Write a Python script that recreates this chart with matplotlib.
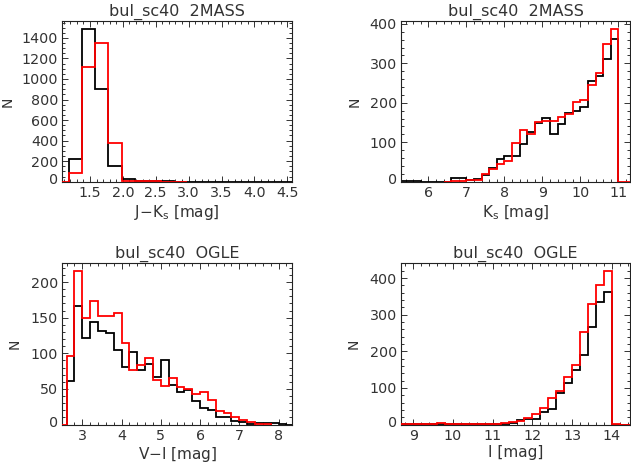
import numpy as np
import matplotlib
matplotlib.use('Agg')
import matplotlib.pyplot as plt
from matplotlib.ticker import MultipleLocator
from matplotlib.transforms import ScaledTranslation

# J-Ks histogram (2MASS), bin width 0.2
jk_black_start = 1.18
jk_black = [221, 1490, 900, 157, 30, 8, 4, 2, 1, 0, 0, 0, 0, 0, 0, 0, 0]
jk_red_start = 0.98
jk_red = [0, 88, 1118, 1353, 380, 10, 4, 2, 1, 0]

# Ks histogram (2MASS)
ks_black_start = 5.2
ks_black = [2, 2, 1, 0, 0, 0, 0,
            9, 9, 4, 7, 17, 34, 58, 66, 64, 96, 125, 149, 161, 122, 145,
            173, 180, 189, 256, 268, 310, 362]
ks_red_start = 6.4
ks_red = [0, 2, 2, 3, 4, 19, 32, 44, 52, 97, 130, 122, 151, 153, 153, 164,
          171, 201, 206, 245, 276, 350, 388, 0, 0]

# V-I histogram (OGLE)
vi_black_start = 2.6
vi_black = [61, 167, 122, 144, 131, 128, 104, 81, 102, 77, 85, 67, 91, 56,
            45, 49, 33, 23, 20, 10, 10, 5, 3, 1, 2, 2, 2, 1, 0]
vi_red_start = 2.4
vi_red = [0, 96, 216, 150, 173, 152, 153, 157, 114, 76, 83, 93, 63, 54, 66,
          52, 50, 43, 45, 34, 19, 16, 11, 7, 3, 1, 1]

# I histogram (OGLE)
i_black_start = 8.6
i_black = [1, 1, 1, 1, 1, 2, 1, 1, 1, 1, 1, 1,
           1, 2, 5, 11, 16, 15, 35, 43, 87, 114, 149, 190, 265, 335, 361,
           0, 0, 0]
i_red_start = 8.6
i_red = [2, 2, 1, 2, 2, 3, 2, 1, 2, 2, 1, 1,
         1, 3, 6, 10, 18, 28, 45, 72, 92, 131, 163, 252, 329, 381, 420,
         1, 0, 0]

binsize = 0.2

panels = [
    # title, xlabel, black, red, xlim, xmajor, xminor, ymajor, yminor, rect, N pos
    ('bul_sc40  2MASS', 'J$-$K$_{\\rm s}$ [mag]', (jk_black_start, jk_black),
     (jk_red_start, jk_red), (1.08, 4.57), 0.5, 0.1, 200, 50,
     [0.0987, 0.611, 0.364, 0.344], -0.207),
    ('bul_sc40  2MASS', 'K$_{\\rm s}$ [mag]', (ks_black_start, ks_black),
     (ks_red_start, ks_red), (5.28, 11.32), 1, 0.2, 100, 20,
     [0.6355, 0.611, 0.3637, 0.344], -0.172),
    ('bul_sc40  OGLE', 'V$-$I [mag]', (vi_black_start, vi_black),
     (vi_red_start, vi_red), (2.49, 8.34), 1, 0.2, 50, 10,
     [0.0987, 0.091, 0.364, 0.3458], -0.179),
    ('bul_sc40  OGLE', 'I [mag]', (i_black_start, i_black),
     (i_red_start, i_red), (8.69, 14.47), 1, 0.2, 100, 20,
     [0.6355, 0.091, 0.3637, 0.3458], -0.174),
]

txt = '#333333'
plt.rcParams['font.family'] = 'DejaVu Sans'

fig = plt.figure(figsize=(6.31, 4.67), dpi=100)

for title, xlabel, blk, red, xlim, xmaj, xmin, ymaj, ymin, rect, npos in panels:
    ax = fig.add_axes(rect)
    b0, bv = blk
    r0, rv = red
    b_edges = b0 + binsize * np.arange(len(bv) + 1)
    r_edges = r0 + binsize * np.arange(len(rv) + 1)
    ax.stairs(bv, b_edges, baseline=0, color='black', lw=1.3, zorder=2)
    ax.stairs(rv, r_edges, baseline=0, color='red', lw=1.3, zorder=3)

    top = 1.05 * max(max(bv), max(rv))
    ax.set_xlim(*xlim)
    ax.set_ylim(0, top)
    ax.xaxis.set_major_locator(MultipleLocator(xmaj))
    ax.xaxis.set_minor_locator(MultipleLocator(xmin))
    ax.yaxis.set_major_locator(MultipleLocator(ymaj))
    ax.yaxis.set_minor_locator(MultipleLocator(ymin))

    ax.tick_params(which='both', direction='in', top=True, right=True,
                   colors=txt, labelsize=10.3, width=0.7, pad=3)
    ax.tick_params(which='major', length=4)
    ax.tick_params(which='minor', length=2)
    for s in ax.spines.values():
        s.set_linewidth(0.8)
        s.set_color('#222222')

    ax.set_title(title, fontsize=11.5, color=txt, pad=4)
    ax.set_xlabel(xlabel, fontsize=11, color=txt, labelpad=2)
    ax.set_ylabel('N', fontsize=10, color=txt)
    ax.yaxis.set_label_coords(npos, 0.5)

    # the zero label sits a bit above the axis, as in the original
    fig.canvas.draw()
    for t in ax.yaxis.get_major_ticks():
        if abs(t.get_loc()) < 1e-9:
            t.label1.set_transform(t.label1.get_transform() +
                                   ScaledTranslation(0, 0.03, fig.dpi_scale_trans))

fig.savefig('out.png', dpi=100)
